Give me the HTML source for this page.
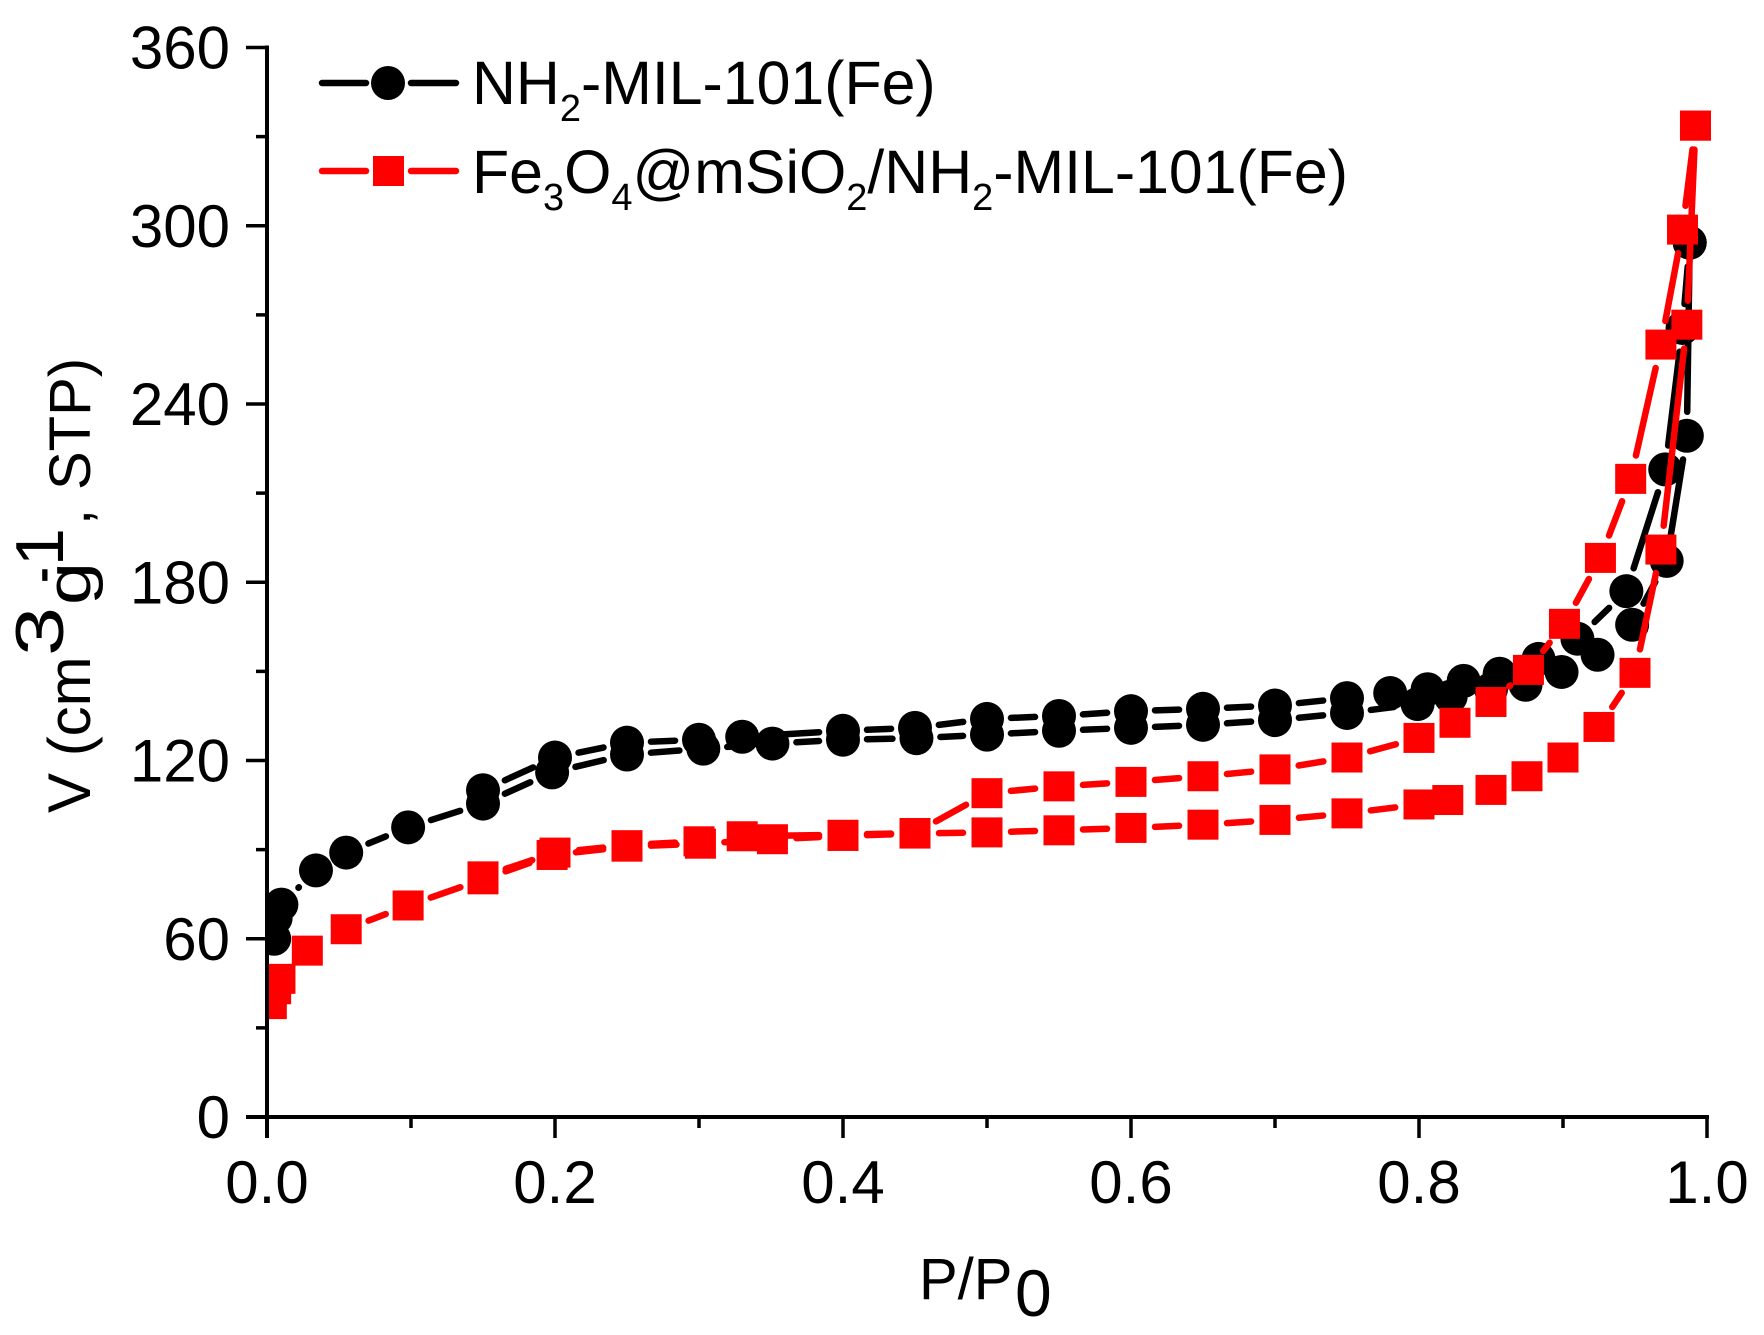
<!DOCTYPE html>
<html lang="en">
<head>
<meta charset="utf-8">
<title>Nitrogen sorption isotherms</title>
<style>
html,body{margin:0;padding:0;background:#fff;width:1764px;height:1335px;overflow:hidden}
svg{display:block}
text{font-family:"Liberation Sans",sans-serif;fill:#000}
</style>
</head>
<body>
<svg id="chart" width="1764" height="1335" viewBox="0 0 1764 1335" xmlns="http://www.w3.org/2000/svg">
  <defs><clipPath id="plot-clip"><rect x="267" y="0" width="1497" height="1117"/></clipPath></defs>
  <g id="series-layer" clip-path="url(#plot-clip)"></g>
  <g id="axis-layer"></g>

  <g>
    <g>
      <line x1="322" y1="83" x2="366" y2="83" stroke="#000" stroke-width="6.5" stroke-linecap="round"/>
      <line x1="411" y1="83" x2="456" y2="83" stroke="#000" stroke-width="6.5" stroke-linecap="round"/>
      <circle cx="388" cy="83" r="17" fill="#000"/>
      <text x="472" y="104" font-size="60.8">NH<tspan font-size="38" dy="17">2</tspan><tspan dy="-17">-MIL-101(Fe)</tspan></text>
    </g>
    <g>
      <line x1="322" y1="171" x2="366" y2="171" stroke="#f00" stroke-width="6.5" stroke-linecap="round"/>
      <line x1="411" y1="171" x2="456" y2="171" stroke="#f00" stroke-width="6.5" stroke-linecap="round"/>
      <rect x="373" y="156" width="31" height="30" fill="#f00"/>
      <text x="472" y="193" font-size="60.8">Fe<tspan font-size="38" dy="17">3</tspan><tspan dy="-17">O</tspan><tspan font-size="38" dy="17">4</tspan><tspan dy="-17">@mSiO</tspan><tspan font-size="38" dy="17">2</tspan><tspan dy="-17">/NH</tspan><tspan font-size="38" dy="17">2</tspan><tspan dy="-17">-MIL-101(Fe)</tspan></text>
    </g>
  </g>

  <g>
    <text font-size="60" transform="translate(90,813) rotate(-90)">V (cm</text>
    <text font-size="68" transform="translate(63,656) rotate(-90) scale(1.3,1)">3</text>
    <text font-size="62" transform="translate(90,605) rotate(-90) scale(1.25,1)">g</text>
    <text font-size="68" transform="translate(63,583) rotate(-90) scale(0.7,1)">-</text>
    <text font-size="68" transform="translate(63,566) rotate(-90)">1</text>
    <text font-size="58" transform="translate(90,525) rotate(-90)">,</text>
    <text font-size="58" transform="translate(90,490) rotate(-90)">STP)</text>
  </g>

  <g>
    <text x="919" y="1299" font-size="58">P/P</text>
    <text x="1015" y="1316" font-size="66">0</text>
  </g>
</svg>

<script>
// ---- axis values ----
const xTicksMajor = [0, 0.2, 0.4, 0.6, 0.8, 1.0];
const xTickLabels = ["0.0", "0.2", "0.4", "0.6", "0.8", "1.0"];
const xTicksMinor = [0.1, 0.3, 0.5, 0.7, 0.9];
const yTicksMajor = [0, 60, 120, 180, 240, 300, 360];
const yTickLabels = ["0", "60", "120", "180", "240", "300", "360"];
const yTicksMinor = [30, 90, 150, 210, 270, 330];

// ---- NH2-MIL-101(Fe) ----
const blackAdsP = [0.005,0.006,0.010,0.034,0.055,0.098,0.150,0.198,0.250,0.303,0.351,0.400,0.451,0.500,0.550,0.600,0.650,0.700,0.750,0.799,0.822,0.850,0.874,0.899,0.924,0.948,0.972,0.986,0.988];
const blackAdsV = [60,67,71.5,83,89,97.5,105.5,116,122,124,125.7,127,127.5,128.7,130,131,132,133.6,136,139,141.5,144,145.5,149.8,155.6,165.7,187.2,229.3,294.3];
const blackDesP = [0.988,0.983,0.971,0.944,0.910,0.883,0.856,0.831,0.806,0.780,0.750,0.700,0.650,0.600,0.550,0.500,0.450,0.400,0.330,0.300,0.250,0.200,0.150];
const blackDesV = [294.3,265.6,218,177,161,154.2,149.2,146.8,144,142.7,141,138.5,137.4,136.6,135,134,131,130,128,127,126,121,110];

// ---- Fe3O4@mSiO2/NH2-MIL-101(Fe) ----
const redAdsP = [0.003,0.006,0.009,0.028,0.055,0.098,0.150,0.198,0.250,0.301,0.351,0.400,0.450,0.500,0.550,0.600,0.650,0.700,0.750,0.800,0.820,0.850,0.875,0.900,0.925,0.950,0.968,0.986,0.992];
const redAdsV = [38,43,46.5,56,63.2,71.2,80,88.2,91,92,93.5,94.6,95.4,95.8,96.5,97.3,98.4,100,102.2,105.2,106.7,110.1,114.7,121,131.3,149.5,191,266.7,333.7];
const redDesP = [0.992,0.983,0.968,0.947,0.926,0.901,0.876,0.850,0.825,0.800,0.750,0.700,0.650,0.600,0.550,0.500,0.450,0.400,0.330,0.300,0.250,0.200,0.150];
const redDesV = [333.7,298.7,260,214.8,188.2,166,150.5,139.7,132.7,127.6,121,117,114.7,112.8,111.3,109,95.6,95,94.5,92.8,91.5,89,81];

// ---- axis functions ----
const xScale = p => 267 + p * 1440;
const yScale = v => 1117 - v * (1069.5 / 360);

const NS = "http://www.w3.org/2000/svg";
const seriesLayer = document.getElementById("series-layer");
const axisLayer = document.getElementById("axis-layer");

function make(tag, parent, attrs) {
  const el = document.createElementNS(NS, tag);
  for (const k in attrs) el.setAttribute(k, attrs[k]);
  parent.appendChild(el);
  return el;
}

// Lines stop short of each marker, leaving a gap as in the source plot.
function drawBranch(group, xs, ys, color, width, gap, label) {
  for (let i = 0; i < xs.length - 1; i++) {
    const x1 = xScale(xs[i]), y1 = yScale(ys[i]);
    const x2 = xScale(xs[i + 1]), y2 = yScale(ys[i + 1]);
    const d = Math.hypot(x2 - x1, y2 - y1);
    if (d <= 2 * gap) continue;
    const ux = (x2 - x1) / d, uy = (y2 - y1) / d;
    const seg = make("line", group, {
      x1: x1 + ux * gap, y1: y1 + uy * gap,
      x2: x2 - ux * gap, y2: y2 - uy * gap,
      stroke: color, "stroke-width": width, "stroke-linecap": "round"
    });
    
    
  }
}

function drawCircles(group, xs, ys, label) {
  for (let i = 0; i < xs.length; i++) {
    const c = make("circle", group, { cx: xScale(xs[i]), cy: yScale(ys[i]), r: 17, fill: "#000" });
    
    
  }
}

function drawSquares(group, xs, ys, label) {
  for (let i = 0; i < xs.length; i++) {
    const r = make("rect", group, { x: xScale(xs[i]) - 15.5, y: yScale(ys[i]) - 15, width: 31, height: 30, fill: "#f00" });
    
    
  }
}

const blackGroup = make("g", seriesLayer, {});


drawBranch(blackGroup, blackAdsP, blackAdsV, "#000", 6.5, 24, "black-adsorption");
drawBranch(blackGroup, blackDesP, blackDesV, "#000", 6.5, 24, "black-desorption");
drawCircles(blackGroup, blackAdsP, blackAdsV, "black-adsorption");
drawCircles(blackGroup, blackDesP, blackDesV, "black-desorption");

const redGroup = make("g", seriesLayer, {});


drawBranch(redGroup, redAdsP, redAdsV, "#f00", 6.5, 24, "red-adsorption");
drawBranch(redGroup, redDesP, redDesV, "#f00", 6.5, 24, "red-desorption");
drawSquares(redGroup, redAdsP, redAdsV, "red-adsorption");
drawSquares(redGroup, redDesP, redDesV, "red-desorption");

// ---- axes ----
const yAxisLine = make("line", axisLayer, { x1: 267, y1: yScale(360) - 2, x2: 267, y2: 1138, stroke: "#000", "stroke-width": 4 });


const xAxisLine = make("line", axisLayer, { x1: 246, y1: 1117, x2: xScale(1) + 2, y2: 1117, stroke: "#000", "stroke-width": 4 });



xTicksMajor.forEach((t, i) => {
  const tick = make("line", axisLayer, { x1: xScale(t), y1: 1117, x2: xScale(t), y2: 1138, stroke: "#000", "stroke-width": 3.5 });
  
  
  const label = make("text", axisLayer, { x: xScale(t), y: 1203, "font-size": 60, "text-anchor": "middle" });
  label.textContent = xTickLabels[i];
  
  
});
xTicksMinor.forEach(t => {
  const tick = make("line", axisLayer, { x1: xScale(t), y1: 1117, x2: xScale(t), y2: 1128, stroke: "#000", "stroke-width": 3.5 });
  
  
});
yTicksMajor.forEach((t, i) => {
  const tick = make("line", axisLayer, { x1: 246, y1: yScale(t), x2: 267, y2: yScale(t), stroke: "#000", "stroke-width": 3.5 });
  
  
  const label = make("text", axisLayer, { x: 230, y: yScale(t) + 21, "font-size": 60, "text-anchor": "end" });
  label.textContent = yTickLabels[i];
  
  
});
yTicksMinor.forEach(t => {
  const tick = make("line", axisLayer, { x1: 256, y1: yScale(t), x2: 267, y2: yScale(t), stroke: "#000", "stroke-width": 3.5 });
  
  
});
</script>
</body>
</html>
